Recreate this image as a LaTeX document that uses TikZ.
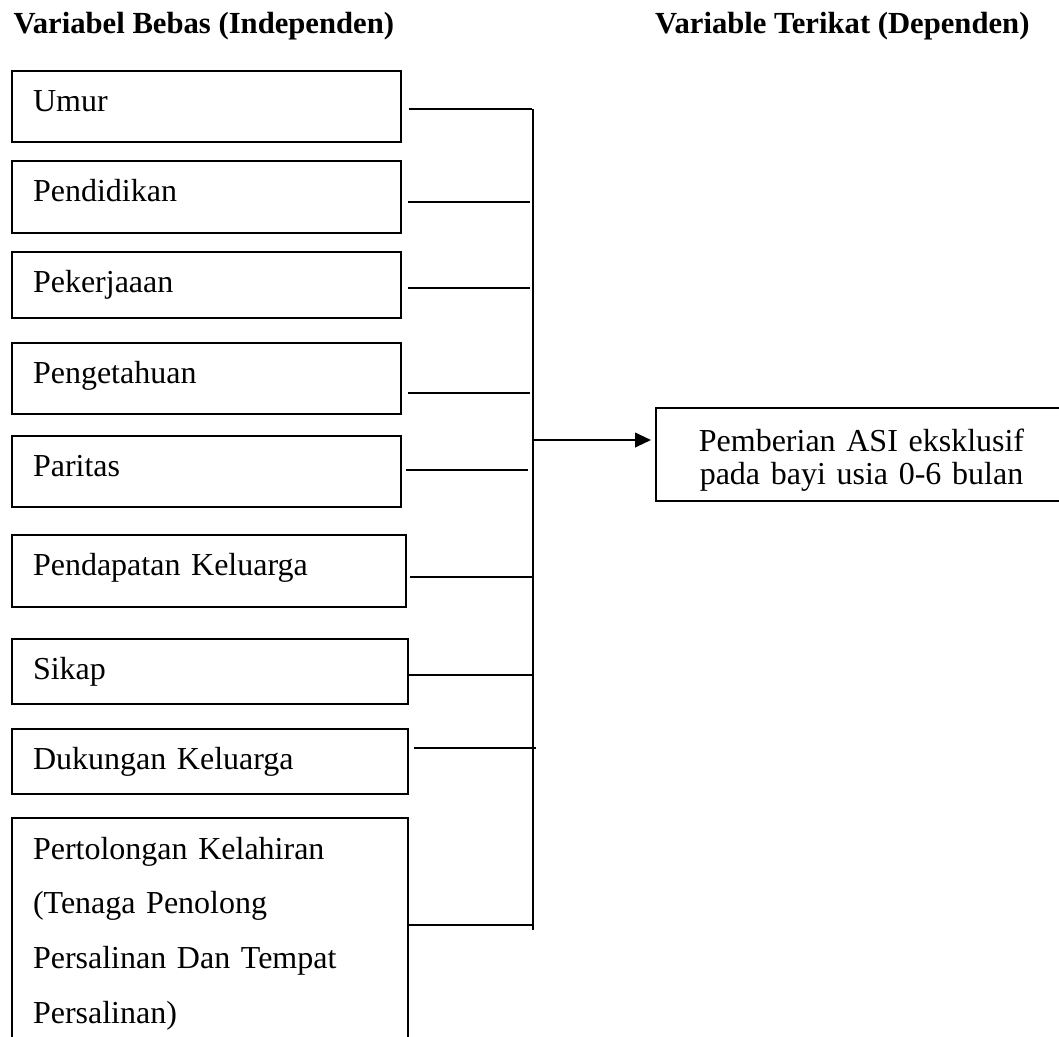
\documentclass[tikz,border=0pt]{standalone}
\usepackage{fontspec}
\setmainfont{Liberation Serif}
\usepackage{tikz}
\usetikzlibrary{arrows.meta, positioning, calc}
\tikzstyle{varbox} = [rectangle, draw=black, line width=0.75pt, anchor=north west, inner xsep=7.875pt, inner ysep=0pt, text width=130.125pt, align=left, text height=15pt, font=\fontsize{12}{13.8}\selectfont]
\tikzstyle{target} = [rectangle, draw=black, line width=0.75pt, anchor=north west, inner sep=0pt, text width=154.125pt, align=center, text height=16.125pt, text depth=18.75pt, font=\fontsize{12}{12.4}\selectfont]
\tikzstyle{head} = [inner sep=0pt, font=\fontsize{11.5}{13.8}\selectfont\bfseries]
\tikzstyle{link} = [line width=0.75pt]
\tikzstyle{arrow} = [line width=0.75pt, -{Triangle[length=6pt,width=5.5pt]}, shorten >=1.5pt]

\begin{document}
\begin{tikzpicture}[x=0.375pt, y=-0.375pt]
    \useasboundingbox (0,0) rectangle (1059,1036);
    \clip (0,0) rectangle (1059,1036);

    \node[head, anchor=base west] (bebas) at (13,33) {Variabel Bebas (Independen)};
    \node[head, anchor=base east] (terikat) at (1030,33) {Variable Terikat (Dependen)};

    \node[varbox, text depth=11.625pt] (umur) at (11,70) {Umur};
    \node[varbox, text depth=12pt] (pendidikan) at (11,160) {Pendidikan};
    \node[varbox, text depth=9.75pt] (pekerjaan) at (11,251) {Pekerjaaan};
    \node[varbox, text depth=11.625pt] (pengetahuan) at (11,342) {Pengetahuan};
    \node[varbox, text depth=11.625pt] (paritas) at (11,435) {Paritas};
    \node[varbox, text depth=12pt, text width=132pt] (pendapatan) at (11,534) {Pendapatan Keluarga};
    \node[varbox, text depth=9.375pt, text width=132.75pt] (sikap) at (11,638) {Sikap};
    \node[varbox, text depth=9.375pt, text width=132.75pt] (dukungan) at (11,728) {Dukungan Keluarga};
    \node[varbox, text height=15.375pt, text depth=75.75pt, text width=132.75pt, font=\fontsize{12}{20.6}\selectfont] (pertolongan) at (11,817) {Pertolongan Kelahiran\\(Tenaga Penolong\\Persalinan Dan Tempat\\Persalinan)};

    \node[target] (hasil) at (655,407) {Pemberian ASI eksklusif\\pada bayi usia 0-6 bulan};

    % titik pada garis pengumpul
    \coordinate (b1) at (532,109);
    \coordinate (b2) at (530,202);
    \coordinate (b3) at (530,288);
    \coordinate (b4) at (530,393);
    \coordinate (b5) at (528,470);
    \coordinate (b6) at (532,577);
    \coordinate (b7) at (532,675);
    \coordinate (b8) at (536,748);
    \coordinate (b9) at (532,925);
    \coordinate (bustop) at (533,109);
    \coordinate (busend) at (533,930);
    \coordinate (busmid) at (533,440);

    \draw[link] ($(umur.east |- b1)+(7,0)$) -- (b1);
    \draw[link] ($(pendidikan.east |- b2)+(6,0)$) -- (b2);
    \draw[link] ($(pekerjaan.east |- b3)+(6,0)$) -- (b3);
    \draw[link] ($(pengetahuan.east |- b4)+(6,0)$) -- (b4);
    \draw[link] ($(paritas.east |- b5)+(4,0)$) -- (b5);
    \draw[link] ($(pendapatan.east |- b6)+(3,0)$) -- (b6);
    \draw[link] (sikap.east |- b7) -- (b7);
    \draw[link] ($(dukungan.east |- b8)+(5,0)$) -- (b8);
    \draw[link] (pertolongan.east |- b9) -- (b9);
    \draw[link] (bustop) -- (busend);
    \draw[arrow] (busmid) -- (hasil.west |- busmid);
\end{tikzpicture}
\end{document}
